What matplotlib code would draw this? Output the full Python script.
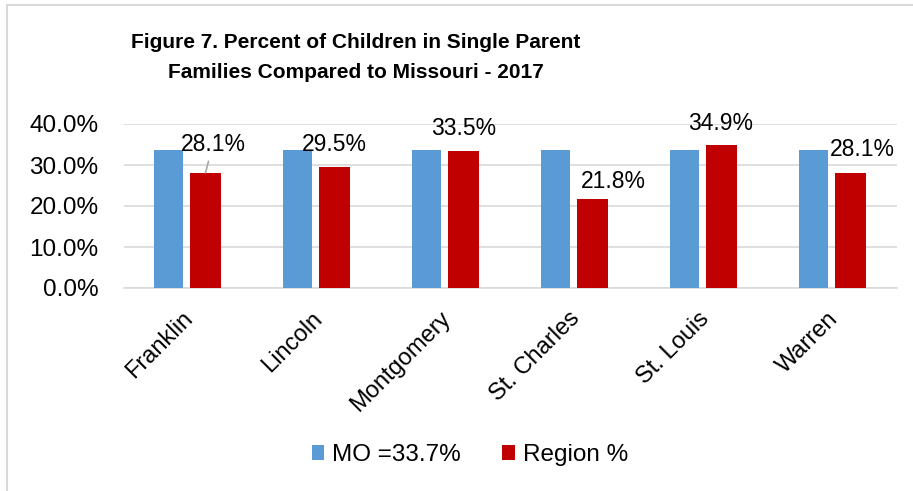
import matplotlib
matplotlib.use("Agg")
import matplotlib.pyplot as plt
from matplotlib.lines import Line2D
from matplotlib.ticker import FuncFormatter
import matplotlib.transforms as mtransforms
import numpy as np

categories = ["Franklin", "Lincoln", "Montgomery", "St. Charles", "St. Louis", "Warren"]
mo_values = [33.7, 33.7, 33.7, 33.7, 33.7, 33.7]
region_values = [28.1, 29.5, 33.5, 21.8, 34.9, 28.1]
series_names = ["MO =33.7%", "Region %"]
title_lines = ["Figure 7. Percent of Children in Single Parent",
               "Families Compared to Missouri - 2017"]

# label offsets (pixels) from red bar top: (dx, dy to baseline)
label_dx = [7.5, 0, 0, 21.5, -1, 12.5]
label_dy = [22, 16, 16, 11, 15, 16.5]
leader = [True, False, False, False, False, False]

plt.rcParams['font.family'] = ['Liberation Sans', 'DejaVu Sans']

fig = plt.figure(figsize=(9.13, 4.91), dpi=100)
ax = fig.add_axes([123.5 / 913, 1 - 288 / 491, (897 - 123.5) / 913, (288 - 124) / 491])

x = np.arange(len(categories))
blue = "#5B9BD5"
red = "#C00000"
ax.bar(x - 0.148, mo_values, width=0.225, color=blue, label=series_names[0], zorder=3)
ax.bar(x + 0.136, region_values, width=0.24, color=red, label=series_names[1], zorder=3)

ax.set_xlim(-0.5, len(categories) - 0.5)
ax.set_ylim(0, 40)
ax.set_yticks([0, 10, 20, 30, 40])
ax.yaxis.set_major_formatter(FuncFormatter(lambda v, p: f"{v:.1f}%"))
ax.grid(axis='y', color='#d9d9d9', linewidth=1.2, zorder=0)
for s in ['top', 'right', 'left']:
    ax.spines[s].set_visible(False)
ax.spines['bottom'].set_color('#d9d9d9')
ax.spines['bottom'].set_linewidth(1.2)
ax.tick_params(axis='both', length=0, labelsize=17)
ax.tick_params(axis='y', pad=18, labelsize=17.5)
ax.set_xticks(x)
ax.set_xticklabels(categories, rotation=45, ha='right', va='top', rotation_mode='anchor')
ax.tick_params(axis='x', pad=14)
shift = mtransforms.ScaledTranslation(-6 / 100, 0, fig.dpi_scale_trans)
for lab in ax.get_xticklabels():
    lab.set_transform(lab.get_transform() + shift)

for i, v in enumerate(region_values):
    ax.annotate(f"{v:.1f}%", xy=(x[i] + 0.136, v), xytext=(label_dx[i], label_dy[i]),
                textcoords='offset pixels', ha='center', va='baseline', fontsize=16.5,
                zorder=5,
                arrowprops=dict(arrowstyle='-', color='#a6a6a6', lw=1.2, shrinkA=2, shrinkB=0)
                if leader[i] else None)

fig.text(356 / 913, 1 - 42 / 491, title_lines[0], ha='center', va='center', fontsize=15,
         fontweight='bold')
fig.text(356 / 913, 1 - 73 / 491, title_lines[1], ha='center', va='center', fontsize=15,
         fontweight='bold')

fig.legend(loc='center', bbox_to_anchor=(470 / 913, 1 - 455 / 491), ncol=2, frameon=False,
           fontsize=17.5, handlelength=0.5, handleheight=0.55, handletextpad=0.35,
           columnspacing=1.7)

# chart border
fig.add_artist(Line2D([7 / 913, 7 / 913], [0, 1 - 5 / 491], transform=fig.transFigure,
                      color='#d9d9d9', lw=1.5))
fig.add_artist(Line2D([7 / 913, 1], [1 - 5 / 491, 1 - 5 / 491], transform=fig.transFigure,
                      color='#d9d9d9', lw=1.5))

fig.savefig("out.png", dpi=100)
